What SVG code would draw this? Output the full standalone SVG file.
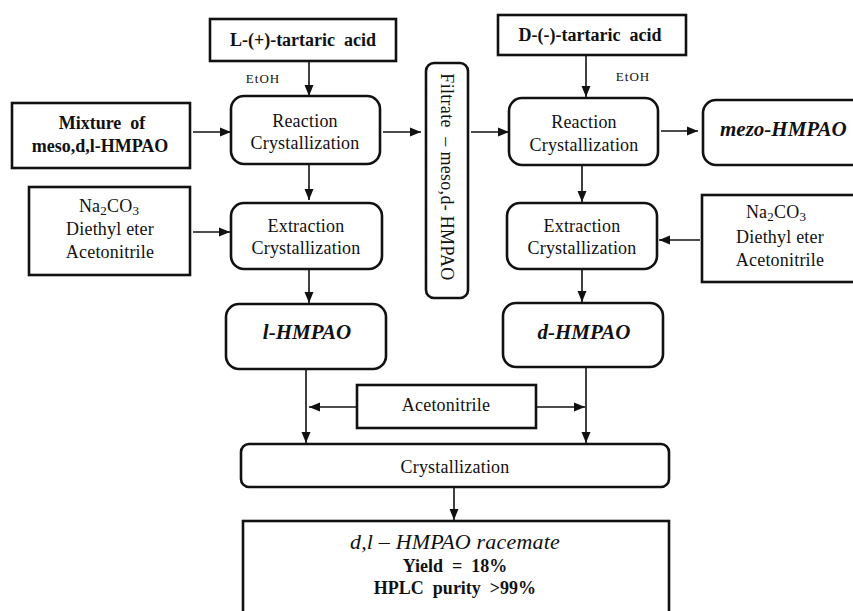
<svg xmlns="http://www.w3.org/2000/svg" width="853" height="611" viewBox="0 0 853 611">
<defs>
<marker id="ah" markerUnits="userSpaceOnUse" markerWidth="12" markerHeight="10" refX="11" refY="5" orient="auto">
<path d="M0,0.5 L11,5 L0,9.5 Z" fill="#111"/>
</marker>
<style>
.box{fill:#fff;stroke:#111;stroke-width:2.6}
.c{fill:none;stroke:#111;stroke-width:1.6;marker-end:url(#ah)}
text{font-family:"Liberation Serif","Times New Roman","DejaVu Serif",serif;fill:#111;text-anchor:middle}
.r{font-size:18px;letter-spacing:0.2px}
.b{font-size:18px;font-weight:bold}
.bi{font-size:21px;font-weight:bold;font-style:italic}
.i{font-size:22px;font-style:italic;letter-spacing:0.2px}
.s{font-size:13px;letter-spacing:1px}
</style>
</defs>
<rect width="853" height="611" fill="#fff"/>

<g id="connectors">
<line class="c" x1="309" y1="62" x2="309" y2="96"/>
<line class="c" x1="193" y1="132" x2="231" y2="132"/>
<line class="c" x1="383" y1="132" x2="421" y2="132"/>
<line class="c" x1="309" y1="165" x2="309" y2="200"/>
<line class="c" x1="193" y1="232" x2="230" y2="232"/>
<line class="c" x1="309" y1="270" x2="309" y2="303"/>
<line class="c" x1="471" y1="132" x2="509" y2="132"/>
<line class="c" x1="586" y1="56" x2="586" y2="97"/>
<line class="c" x1="661" y1="131" x2="698" y2="131"/>
<line class="c" x1="582" y1="166" x2="582" y2="202"/>
<line class="c" x1="700" y1="240" x2="659" y2="240"/>
<line class="c" x1="582" y1="270" x2="582" y2="302"/>
<line class="c" x1="306" y1="370" x2="306" y2="443"/>
<line class="c" x1="586" y1="368" x2="586" y2="443"/>
<line class="c" x1="357" y1="407" x2="309" y2="407"/>
<line class="c" x1="536" y1="407" x2="585" y2="407"/>
<line class="c" x1="454" y1="488" x2="454" y2="520"/>
</g>

<g id="l-tartaric">
<rect class="box" x="210" y="19" width="186" height="42"/>
<text class="b" x="303" y="46" xml:space="preserve">L-(+)-tartaric  acid</text>
</g>
<g id="etoh-left"><text class="s" x="263" y="83">EtOH</text></g>

<g id="mixture">
<rect class="box" x="12" y="103" width="178" height="65"/>
<text class="b" x="102" y="129" xml:space="preserve">Mixture  of</text>
<text class="b" x="100" y="152">meso,d,l-HMPAO</text>
</g>

<g id="reaction-left">
<rect class="box" x="231" y="96" width="149" height="68" rx="13"/>
<text class="r" x="305" y="127">Reaction</text>
<text class="r" x="305" y="149">Crystallization</text>
</g>

<g id="na2co3-left">
<rect class="box" x="29" y="187" width="161" height="88"/>
<text class="r" x="109" y="212">Na<tspan font-size="13" dy="3">2</tspan><tspan dy="-3">CO</tspan><tspan font-size="13" dy="3">3</tspan></text>
<text class="r" x="110" y="235">Diethyl eter</text>
<text class="r" x="110" y="258">Acetonitrile</text>
</g>

<g id="extraction-left">
<rect class="box" x="231" y="203" width="151" height="66" rx="13"/>
<text class="r" x="306" y="232">Extraction</text>
<text class="r" x="306" y="254">Crystallization</text>
</g>

<g id="l-hmpao">
<rect class="box" x="226" y="304" width="160" height="65" rx="13"/>
<text class="bi" x="307" y="339">l-HMPAO</text>
</g>

<g id="filtrate">
<rect class="box" x="426" y="63" width="42" height="235" rx="8"/>
<text class="r" transform="translate(441,177) rotate(90)" style="letter-spacing:0.3px" xml:space="preserve">Filtrate  – meso,d- HMPAO</text>
</g>

<g id="d-tartaric">
<rect class="box" x="498" y="15" width="188" height="40"/>
<text class="b" x="590" y="41" xml:space="preserve">D-(-)-tartaric  acid</text>
</g>
<g id="etoh-right"><text class="s" x="633" y="81">EtOH</text></g>

<g id="reaction-right">
<rect class="box" x="509" y="98" width="149" height="67" rx="13"/>
<text class="r" x="584" y="128">Reaction</text>
<text class="r" x="584" y="151">Crystallization</text>
</g>

<g id="mezo-hmpao">
<rect class="box" x="703" y="100" width="170" height="65" rx="13"/>
<text class="bi" x="720" y="136" style="text-anchor:start">mezo-HMPAO</text>
</g>

<g id="na2co3-right">
<rect class="box" x="702" y="195" width="170" height="87"/>
<text class="r" x="776" y="218">Na<tspan font-size="13" dy="3">2</tspan><tspan dy="-3">CO</tspan><tspan font-size="13" dy="3">3</tspan></text>
<text class="r" x="780" y="243">Diethyl eter</text>
<text class="r" x="780" y="266">Acetonitrile</text>
</g>

<g id="extraction-right">
<rect class="box" x="507" y="203" width="150" height="66" rx="13"/>
<text class="r" x="582" y="232">Extraction</text>
<text class="r" x="582" y="254">Crystallization</text>
</g>

<g id="d-hmpao">
<rect class="box" x="503" y="303" width="160" height="64" rx="13"/>
<text class="bi" x="584" y="339">d-HMPAO</text>
</g>

<g id="acetonitrile">
<rect class="box" x="357" y="385" width="179" height="43"/>
<text class="r" x="446" y="411">Acetonitrile</text>
</g>

<g id="crystallization">
<rect class="box" x="241" y="444" width="428" height="43" rx="8"/>
<text class="r" x="455" y="473">Crystallization</text>
</g>

<g id="racemate">
<rect class="box" x="243" y="521" width="426" height="110"/>
<text class="i" x="455" y="549">d,l – HMPAO racemate</text>
<text class="b" x="455" y="572" xml:space="preserve">Yield  =  18%</text>
<text class="b" x="455" y="594" xml:space="preserve">HPLC  purity  &gt;99%</text>
</g>
</svg>
